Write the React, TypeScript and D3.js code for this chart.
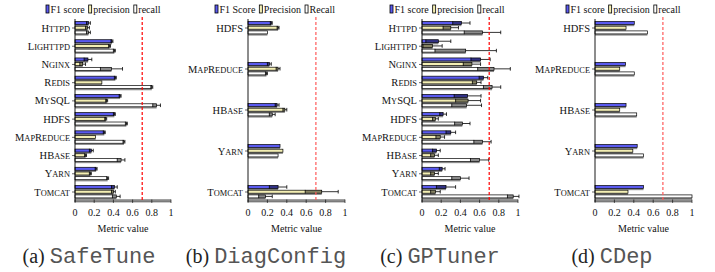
import React from "react";
import * as d3 from "d3";

// ---------- data ----------
const catsTen = ["Httpd", "Lighttpd", "Nginx", "Redis", "MySQL", "HDFS", "MapReduce", "HBase", "Yarn", "Tomcat"];
const catsFive = ["HDFS", "MapReduce", "HBase", "Yarn", "Tomcat"];
const tickValues = [0, 0.2, 0.4, 0.6, 0.8, 1];
const tickLabels = ["0", "0.2", "0.4", "0.6", "0.8", "1"];
const thresholdValue = 0.7;

// SafeTune
const safeF1 = [0.14, 0.385, 0.135, 0.42, 0.47, 0.41, 0.305, 0.17, 0.22, 0.41];
const safeF1Err = [0.02, 0.01, 0.04, 0.01, 0.01, 0.01, 0.01, 0.02, 0.01, 0.03];
const safeP = [0.13, 0.36, 0.08, 0.28, 0.33, 0.32, 0.215, 0.11, 0.16, 0.4];
const safePErr = [0.02, 0.01, 0.03, 0.0, 0.01, 0.01, 0.0, 0.01, 0.01, 0.02];
const safeR = [0.14, 0.41, 0.38, 0.8, 0.85, 0.535, 0.51, 0.48, 0.34, 0.43];
const safeRErr = [0.02, 0.01, 0.115, 0.01, 0.04, 0.01, 0.01, 0.04, 0.01, 0.04];

// DiagConfig
const diagF1 = [0.24, 0.22, 0.3, 0.33, 0.31];
const diagF1Err = [0.01, 0.02, 0.02, 0.0, 0.09];
const diagP = [0.31, 0.31, 0.38, 0.36, 0.76];
const diagPErr = [0.01, 0.02, 0.02, 0.0, 0.17];
const diagR = [0.2, 0.19, 0.25, 0.31, 0.18];
const diagRErr = [0.0, 0.01, 0.03, 0.0, 0.07];

// GPTuner
const gpF1 = [0.41, 0.17, 0.61, 0.64, 0.475, 0.22, 0.3, 0.15, 0.21, 0.25];
const gpF1Err = [0.09, 0.13, 0.1, 0.045, 0.14, 0.035, 0.05, 0.04, 0.03, 0.1];
const gpP = [0.3, 0.11, 0.52, 0.57, 0.48, 0.14, 0.19, 0.13, 0.13, 0.14];
const gpPErr = [0.08, 0.1, 0.09, 0.045, 0.13, 0.03, 0.045, 0.04, 0.04, 0.05];
const gpR = [0.63, 0.455, 0.75, 0.73, 0.465, 0.42, 0.63, 0.6, 0.4, 0.95];
const gpRErr = [0.19, 0.32, 0.17, 0.09, 0.155, 0.08, 0.09, 0.095, 0.09, 0.06];

// CDep
const cdepF1 = [0.405, 0.315, 0.32, 0.435, 0.5];
const cdepP = [0.32, 0.255, 0.255, 0.39, 0.34];
const cdepR = [0.54, 0.405, 0.43, 0.5, 1.0];
const zeros5 = [0, 0, 0, 0, 0];

const legendLower = ["F1 score", "precision", "recall"];
const legendUpper = ["F1 Score", "Precision", "Recall"];

// ---------- styling / layout ----------
const seriesFill = ["#5a5af0", "#f4efb4", "#ffffff"];
const SERIF = "Liberation Serif, Times New Roman, Times, DejaVu Serif, serif";
const MONO = "Liberation Mono, Courier New, Courier, monospace";

type Panel = {
  letter: string;
  name: string;
  cats: string[];
  vals: number[][];
  errs: number[][];
  legend: string[];
  x0: number;
  x1: number;
  legendX: number;
  captionX: number;
  lineColor: string;
};

const panels: Panel[] = [
  { letter: "(a)", name: "SafeTune", cats: catsTen, vals: [safeF1, safeP, safeR], errs: [safeF1Err, safePErr, safeRErr], legend: legendLower, x0: 75, x1: 171, legendX: 46, captionX: 89, lineColor: "#ff0000" },
  { letter: "(b)", name: "DiagConfig", cats: catsFive, vals: [diagF1, diagP, diagR], errs: [diagF1Err, diagPErr, diagRErr], legend: legendUpper, x0: 248, x1: 345, legendX: 215, captionX: 266, lineColor: "#ff5a5a" },
  { letter: "(c)", name: "GPTuner", cats: catsTen, vals: [gpF1, gpP, gpR], errs: [gpF1Err, gpPErr, gpRErr], legend: legendLower, x0: 422, x1: 518, legendX: 390, captionX: 440, lineColor: "#ff0000" },
  { letter: "(d)", name: "CDep", cats: catsFive, vals: [cdepF1, cdepP, cdepR], errs: [zeros5, zeros5, zeros5], legend: legendLower, x0: 595, x1: 692, legendX: 566, captionX: 612, lineColor: "#ff5a5a" },
];

let ctx: CanvasRenderingContext2D | null = null;
function measure(text: string, font: string) {
  if (!ctx) ctx = document.createElement("canvas").getContext("2d");
  if (!ctx) return text.length * 5;
  ctx.font = font;
  return ctx.measureText(text).width;
}

const serifStyle = { fontFamily: SERIF };
const monoStyle = { fontFamily: MONO };

function SmallCaps({ text, x, y }: { text: string; x: number; y: number }) {
  const runs: { s: string; big: boolean }[] = [];
  for (const ch of text) {
    const big = ch === ch.toUpperCase();
    const last = runs[runs.length - 1];
    if (last && last.big === big) last.s += ch;
    else runs.push({ s: ch, big });
  }
  return (
    <text x={x} y={y} textAnchor="end" style={serifStyle} fill="#111">
      {runs.map((r, i) => (
        <tspan key={i} fontSize={r.big ? 10.5 : 8.4}>
          {r.s.toUpperCase()}
        </tspan>
      ))}
    </text>
  );
}

function PanelView({ p }: { p: Panel }) {
  const x = d3.scaleLinear().domain([0, 1]).range([p.x0, p.x1]);
  const y = d3.scalePoint<string>().domain(p.cats).range([28, 192]);
  const axisY = 202;
  const pitch = 4.7;
  const bh = 3;
  const sh = 1.7;

  const legendFont = `10px Liberation Serif`;
  let lx = p.legendX;
  const legendItems = p.legend.map((t, i) => {
    const item = { t, i, sx: lx, tx: lx + 4.5 };
    lx += 4.5 + measure(t, legendFont) + 4;
    return item;
  });

  return (
    <g>
      {legendItems.map((it) => (
        <g key={it.t}>
          <rect x={it.sx} y={5} width={3} height={8} fill={seriesFill[it.i]} stroke="#000" strokeWidth={0.8} />
          <text x={it.tx} y={12.5} fontSize={10} style={serifStyle} fill="#111">
            {it.t}
          </text>
        </g>
      ))}

      {p.cats.map((c, ci) => {
        const cy = y(c) as number;
        return (
          <g key={c}>
            {[0, 1, 2].map((si) => {
              const v = p.vals[si][ci];
              const e = p.errs[si][ci];
              const top = cy + (si - 1) * pitch - bh / 2 - 0.3;
              const mid = top + bh / 2;
              return (
                <g key={si}>
                  <rect x={x(0)} y={top + bh} width={x(v) - x(0)} height={sh} fill="#8a8a8a" />
                  <rect x={x(0)} y={top} width={x(v) - x(0)} height={bh} fill={seriesFill[si]} stroke="#000" strokeWidth={0.7} />
                  {e > 0 && (
                    <g>
                      <rect x={x(v - e)} y={top} width={x(v) - x(v - e)} height={bh} fill="#000" fillOpacity={0.45} />
                      <line x1={x(v)} x2={x(v + e)} y1={mid} y2={mid} stroke="#000" strokeWidth={0.8} />
                      <line x1={x(v - e)} x2={x(v - e)} y1={mid - 1.8} y2={mid + 1.8} stroke="#000" strokeWidth={0.8} />
                      <line x1={x(v + e)} x2={x(v + e)} y1={mid - 1.8} y2={mid + 1.8} stroke="#000" strokeWidth={0.8} />
                    </g>
                  )}
                </g>
              );
            })}
            <line x1={p.x0 - 3} x2={p.x0} y1={cy} y2={cy} stroke="#000" strokeWidth={0.6} />
            <SmallCaps text={c} x={p.x0 - 5} y={cy + 3.6} />
          </g>
        );
      })}

      <rect x={x(0)} y={axisY - 2.8} width={x(1) - x(0)} height={2.8} fill="#8a8a8a" />
      <line x1={x(0)} x2={x(0)} y1={19} y2={axisY} stroke="#000" strokeWidth={0.9} />
      <line x1={x(0)} x2={x(1)} y1={axisY} y2={axisY} stroke="#555" strokeWidth={0.6} />
      {tickValues.map((t, i) => (
        <g key={t}>
          <line x1={x(t)} x2={x(t)} y1={axisY - 2.5} y2={axisY + 1} stroke="#000" strokeWidth={0.6} />
          <text x={x(t)} y={215.5} fontSize={10} textAnchor="middle" style={serifStyle} fill="#111">
            {tickLabels[i]}
          </text>
        </g>
      ))}
      <text x={(p.x0 + p.x1) / 2} y={231.5} fontSize={10} textAnchor="middle" style={serifStyle} fill="#111">
        Metric value
      </text>

      <line x1={x(thresholdValue)} x2={x(thresholdValue)} y1={17} y2={axisY} stroke={p.lineColor} strokeWidth={1.2} strokeDasharray="3,2" />

      <text x={p.captionX} y={263} textAnchor="middle" fill="#222">
        <tspan style={serifStyle} fontSize={20}>{p.letter} </tspan>
        <tspan style={monoStyle} fontSize={22} fill="#555">{p.name}</tspan>
      </text>
    </g>
  );
}

export default function App() {
  return (
    <svg width={715} height={272} style={{ position: "absolute", left: 0, top: 0, background: "#fff" }}>
      <rect width={715} height={272} fill="#fff" />
      {panels.map((p) => (
        <PanelView key={p.letter} p={p} />
      ))}
    </svg>
  );
}
